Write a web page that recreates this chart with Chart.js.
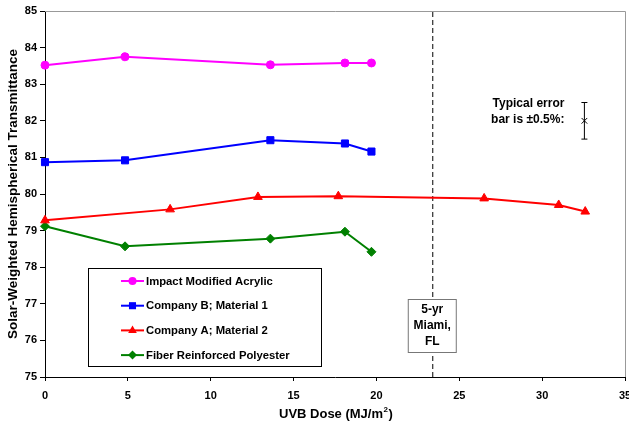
<!DOCTYPE html>
<html><head><meta charset="utf-8">
<script src="https://cdn.jsdelivr.net/npm/chart.js@4.4.0/dist/chart.umd.min.js"></script>
<style>html,body{margin:0;padding:0;background:#fff}#wrap{width:629px;height:422px;position:relative}</style>
</head><body><div id="wrap"><canvas id="c" width="629" height="422"></canvas></div>
<script>
const seriesNames = ["Impact Modified Acrylic", "Company B; Material 1", "Company A; Material 2", "Fiber Reinforced Polyester"];
const acrylicX = [0, 4.83, 13.6, 18.1, 19.7];
const acrylicY = [83.52, 83.75, 83.53, 83.58, 83.58];
const companyBX = [0, 4.83, 13.6, 18.1, 19.7];
const companyBY = [80.87, 80.92, 81.47, 81.38, 81.16];
const companyAX = [0, 7.55, 12.85, 17.7, 26.5, 31.0, 32.6];
const companyAY = [79.28, 79.58, 79.92, 79.94, 79.88, 79.70, 79.52];
const polyesterX = [0, 4.83, 13.6, 18.1, 19.7];
const polyesterY = [79.12, 78.57, 78.78, 78.97, 78.42];
const miamiDose = 23.4;
const errorBarX = 32.55;
const errorBarCenter = 82.0;
const errorBarHalf = 0.5;
const xTicks = [0, 5, 10, 15, 20, 25, 30, 35];
const yTicks = [75, 76, 77, 78, 79, 80, 81, 82, 83, 84, 85];

const colors = ["#FF00FF", "#0000FF", "#FF0000", "#008000"];
const styles = ["circle", "rect", "triangle", "rectRot"];
const radii = [4, 5, 5, 4.5];
const FONT = "Liberation Sans, Arial, sans-serif";

function pts(xs, ys){ return xs.map((x,i)=>({x:x, y:ys[i]})); }
const allX = [acrylicX, companyBX, companyAX, polyesterX];
const allY = [acrylicY, companyBY, companyAY, polyesterY];

const datasets = seriesNames.map((n,i)=>({
  label:n, data:pts(allX[i], allY[i]), borderColor:colors[i], backgroundColor:colors[i],
  borderWidth:2, pointStyle:styles[i], pointRadius:radii[i], pointBorderWidth:1, tension:0, clip:false
}));
datasets.push({label:"miami", data:[{x:miamiDose,y:75},{x:miamiDose,y:85}], borderColor:"#000", borderWidth:1, borderDash:[5,3], pointRadius:0});
datasets.push({label:"err", data:[{x:errorBarX,y:errorBarCenter-errorBarHalf},{x:errorBarX,y:errorBarCenter},{x:errorBarX,y:errorBarCenter+errorBarHalf}],
  borderColor:"#000", backgroundColor:"#000", borderWidth:1, pointStyle:["line","crossRot","line"], pointRadius:[3,4,3], pointBorderWidth:1});

function drawMarker(ctx, style, x, y, r, color){
  ctx.save(); ctx.fillStyle=color; ctx.strokeStyle=color; ctx.beginPath();
  if(style==="circle"){ ctx.arc(x,y,r,0,Math.PI*2); }
  else if(style==="rect"){ const s=r*Math.SQRT1_2*2; ctx.rect(x-s/2,y-s/2,s,s); }
  else if(style==="triangle"){ ctx.moveTo(x, y-r); ctx.lineTo(x+r*0.87,y+r*0.5); ctx.lineTo(x-r*0.87,y+r*0.5); ctx.closePath(); }
  else if(style==="rectRot"){ ctx.moveTo(x,y-r); ctx.lineTo(x+r,y); ctx.lineTo(x,y+r); ctx.lineTo(x-r,y); ctx.closePath(); }
  ctx.fill(); ctx.restore();
}

const PLOT_RIGHT = 625;
const fixArea = {
  id:"fixArea",
  afterLayout(chart){
    const x = chart.scales.x;
    x.right = PLOT_RIGHT; x.width = x.right - x.left;
    chart.chartArea.right = PLOT_RIGHT; chart.chartArea.width = PLOT_RIGHT - chart.chartArea.left;
    x.configure();
  }
};

const overlay = {
  id:"overlay",
  afterDraw(chart){
    const ctx = chart.ctx, xs = chart.scales.x, ys = chart.scales.y, ca = chart.chartArea;
    ctx.save();
    // top & right border
    ctx.strokeStyle="#999"; ctx.lineWidth=1;
    ctx.beginPath(); ctx.moveTo(ca.left, ca.top+0.5); ctx.lineTo(ca.right+0.5, ca.top+0.5); ctx.lineTo(ca.right+0.5, ca.bottom); ctx.stroke();
    // x-axis title with superscript
    ctx.fillStyle="#000"; ctx.textBaseline="alphabetic"; ctx.textAlign="left";
    const main = "UVB Dose (MJ/m";
    ctx.font="bold 13px "+FONT;
    const w1 = ctx.measureText(main).width;
    ctx.font="bold 8px "+FONT;
    const w2 = ctx.measureText("2").width;
    let tx = 279;
    const base = 418;
    ctx.font="bold 13px "+FONT; ctx.fillText(main, tx, base);
    ctx.font="bold 8px "+FONT; ctx.fillText("2", tx+w1+0.5, base-6);
    ctx.font="bold 13px "+FONT; ctx.fillText(")", tx+w1+w2+1, base);
    // Miami box
    const mx = xs.getPixelForValue(miamiDose);
    const bx = mx-25, by = 299, bw = 48, bh = 53;
    ctx.fillStyle="#fff"; ctx.fillRect(bx,by,bw,bh);
    ctx.strokeStyle="#777"; ctx.strokeRect(bx+0.5,by+0.5,bw,bh);
    ctx.fillStyle="#000"; ctx.font="bold 12px "+FONT; ctx.textAlign="center"; ctx.textBaseline="middle";
    ["5-yr","Miami,","FL"].forEach((t,i)=>ctx.fillText(t, bx+bw/2+0.5, by+11+i*16));
    // error bar text
    ctx.textAlign="right";
    const ey = ys.getPixelForValue(errorBarCenter);
    ctx.fillText("Typical error", xs.getPixelForValue(errorBarX)-20, ey-17);
    ctx.fillText("bar is \u00B10.5%:", xs.getPixelForValue(errorBarX)-20, ey-1);
    // legend
    const lx=88, ly=268, lw=233, lh=98;
    ctx.fillStyle="#fff"; ctx.fillRect(lx,ly,lw,lh);
    ctx.strokeStyle="#000"; ctx.lineWidth=1; ctx.strokeRect(lx+0.5,ly+0.5,lw,lh);
    ctx.font="bold 11.3px "+FONT; ctx.textAlign="left";
    seriesNames.forEach((n,i)=>{
      const yy = ly+13+i*24.7;
      ctx.strokeStyle=colors[i]; ctx.lineWidth=2;
      ctx.beginPath(); ctx.moveTo(121,yy); ctx.lineTo(144,yy); ctx.stroke();
      drawMarker(ctx, styles[i], 132.5, yy, radii[i], colors[i]);
      ctx.fillStyle="#000"; ctx.fillText(n, 146, yy+0.5);
    });
    ctx.restore();
  }
};

new Chart(document.getElementById("c"), {
  type:"line",
  data:{datasets:datasets},
  options:{
    responsive:false, animation:false,
    layout:{padding:{top:11, right:2, left:2, bottom:0}},
    plugins:{legend:{display:false}, tooltip:{enabled:false}},
    scales:{
      x:{type:"linear", min:0, max:35,
        afterBuildTicks(s){ s.ticks = xTicks.map(v=>({value:v})); },
        afterFit(s){ s.height = 45; s.paddingRight = 0; s.paddingLeft = 0; },
        grid:{display:true, drawOnChartArea:false, drawTicks:true, tickLength:4, color:"#000"},
        border:{color:"#000", width:1},
        ticks:{color:"#000", font:{family:FONT, size:11, weight:"bold"}, padding:8, maxRotation:0},
        title:{display:false}
      },
      y:{type:"linear", min:75, max:85,
        afterBuildTicks(s){ s.ticks = yTicks.map(v=>({value:v})); },
        afterFit(s){ s.width = 43; },
        grid:{display:true, drawOnChartArea:false, drawTicks:true, tickLength:5, color:"#000"},
        border:{color:"#000", width:1},
        ticks:{color:"#000", font:{family:FONT, size:11, weight:"bold"}, padding:3},
        title:{display:true, text:"Solar-Weighted Hemispherical Transmittance", color:"#000", font:{family:FONT, size:13.5, weight:"bold"}, padding:{top:3, bottom:0}}
      }
    }
  },
  plugins:[fixArea, overlay]
});
</script></body></html>
